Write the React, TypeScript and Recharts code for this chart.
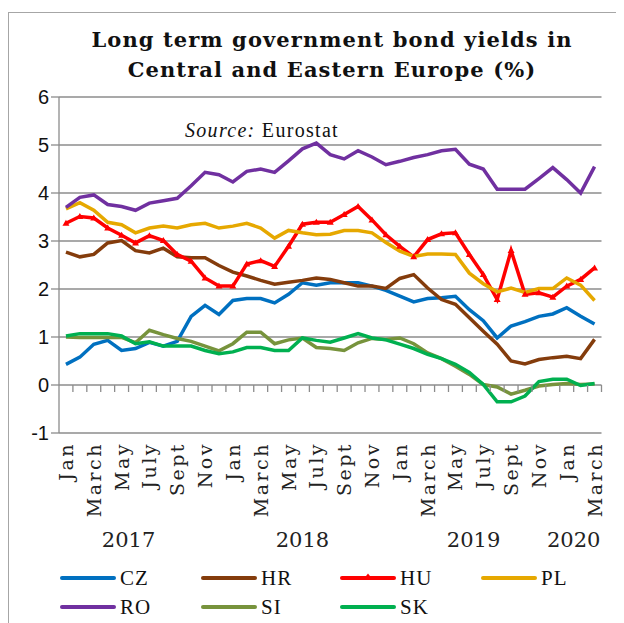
import { LineChart, Line, XAxis, YAxis, CartesianGrid } from 'recharts';

const months = [
  'Jan 2017', 'Feb 2017', 'Mar 2017', 'Apr 2017', 'May 2017', 'Jun 2017', 'Jul 2017', 'Aug 2017', 'Sep 2017', 'Oct 2017', 'Nov 2017', 'Dec 2017',
  'Jan 2018', 'Feb 2018', 'Mar 2018', 'Apr 2018', 'May 2018', 'Jun 2018', 'Jul 2018', 'Aug 2018', 'Sep 2018', 'Oct 2018', 'Nov 2018', 'Dec 2018',
  'Jan 2019', 'Feb 2019', 'Mar 2019', 'Apr 2019', 'May 2019', 'Jun 2019', 'Jul 2019', 'Aug 2019', 'Sep 2019', 'Oct 2019', 'Nov 2019', 'Dec 2019',
  'Jan 2020', 'Feb 2020', 'Mar 2020',
];

// short month -> label shown under the axis (every other month)
const monthTickLabels: Record<string, string> = {
  Jan: 'Jan', Mar: 'March', May: 'May', Jul: 'July', Sep: 'Sept', Nov: 'Nov',
};

const yearNames = ['2017', '2018', '2019', '2020'];
const yearTicks = [4.5, 17, 29.3, 36.5];

const yTicks = [-1, 0, 1, 2, 3, 4, 5, 6];

const cz = [0.43, 0.58, 0.85, 0.93, 0.72, 0.76, 0.89, 0.81, 0.91, 1.43, 1.66, 1.47, 1.76, 1.80, 1.80, 1.71, 1.89, 2.13, 2.08, 2.13, 2.13, 2.13, 2.06, 1.97, 1.85, 1.73, 1.80, 1.82, 1.85, 1.57, 1.34, 0.98, 1.23, 1.32, 1.43, 1.48, 1.61, 1.43, 1.27];
const hr = [2.77, 2.67, 2.72, 2.96, 3.01, 2.80, 2.75, 2.85, 2.67, 2.65, 2.65, 2.49, 2.35, 2.27, 2.18, 2.10, 2.14, 2.18, 2.23, 2.20, 2.13, 2.06, 2.06, 2.01, 2.22, 2.30, 2.02, 1.78, 1.68, 1.40, 1.12, 0.85, 0.50, 0.44, 0.53, 0.57, 0.60, 0.55, 0.95];
const hu = [3.37, 3.51, 3.48, 3.27, 3.12, 2.96, 3.11, 3.01, 2.72, 2.58, 2.23, 2.06, 2.06, 2.52, 2.59, 2.47, 2.89, 3.35, 3.39, 3.39, 3.55, 3.72, 3.44, 3.13, 2.89, 2.67, 3.03, 3.15, 3.17, 2.72, 2.30, 1.78, 2.80, 1.89, 1.92, 1.83, 2.06, 2.20, 2.44];
const pl = [3.67, 3.80, 3.64, 3.39, 3.34, 3.17, 3.27, 3.31, 3.27, 3.34, 3.37, 3.27, 3.31, 3.37, 3.27, 3.06, 3.22, 3.17, 3.13, 3.14, 3.22, 3.22, 3.17, 2.97, 2.79, 2.68, 2.73, 2.73, 2.72, 2.33, 2.11, 1.94, 2.02, 1.93, 2.01, 2.01, 2.23, 2.08, 1.76];
const ro = [3.70, 3.91, 3.96, 3.76, 3.72, 3.64, 3.79, 3.84, 3.89, 4.15, 4.43, 4.38, 4.23, 4.45, 4.50, 4.43, 4.67, 4.92, 5.04, 4.80, 4.71, 4.88, 4.75, 4.59, 4.66, 4.74, 4.80, 4.88, 4.91, 4.60, 4.50, 4.08, 4.08, 4.08, 4.30, 4.53, 4.28, 4.00, 4.55];
const si = [1.00, 0.99, 0.99, 0.99, 0.99, 0.88, 1.14, 1.05, 0.97, 0.91, 0.81, 0.71, 0.86, 1.10, 1.10, 0.86, 0.94, 0.98, 0.78, 0.76, 0.72, 0.88, 0.97, 0.95, 0.98, 0.86, 0.67, 0.55, 0.39, 0.22, 0.01, -0.04, -0.19, -0.11, -0.02, 0.01, 0.03, 0.01, 0.02];
const sk = [1.02, 1.07, 1.07, 1.07, 1.02, 0.86, 0.90, 0.81, 0.81, 0.81, 0.72, 0.65, 0.69, 0.78, 0.78, 0.72, 0.72, 0.98, 0.93, 0.89, 0.98, 1.07, 0.98, 0.94, 0.85, 0.76, 0.64, 0.55, 0.43, 0.26, 0.01, -0.35, -0.35, -0.23, 0.07, 0.12, 0.12, -0.01, 0.03];

const series = [
  { key: 'CZ', color: '#0070C0', values: cz },
  { key: 'HR', color: '#843C0C', values: hr },
  { key: 'HU', color: '#FF0000', values: hu },
  { key: 'PL', color: '#E6A800', values: pl },
  { key: 'RO', color: '#7030A0', values: ro },
  { key: 'SI', color: '#77933C', values: si },
  { key: 'SK', color: '#00B050', values: sk },
];

const data = months.map((m, i) => {
  const row: Record<string, any> = { month: m, idx: i };
  series.forEach(s => { row[s.key] = s.values[i]; });
  return row;
});

// layout (chart coordinates)
const CHART_W = 616;
const CHART_H = 615;
const PLOT_LEFT = 51;
const PLOT_RIGHT = 593.5;
const PLOT_TOP = 89;
const PLOT_BOTTOM = 425;
const Y_ZERO = PLOT_TOP + (PLOT_BOTTOM - PLOT_TOP) * 6 / 7;
const STEP = (PLOT_RIGHT - PLOT_LEFT) / months.length;
const GRID = '#8c8c8c';
const SERIF = '"DejaVu Serif", serif';
const TIMES = '"Liberation Serif", "Times New Roman", Times, serif';

const MonthTick = (props: any) => {
  const { x, payload } = props;
  const label = monthTickLabels[String(payload.value).split(' ')[0]];
  const ty = PLOT_BOTTOM + 9;
  return (
    <g>
      <line x1={x + STEP / 2} x2={x + STEP / 2} y1={Y_ZERO} y2={Y_ZERO + 7} stroke={GRID} strokeWidth={1.3} />
      {label && (
        <text
          x={x}
          y={ty}
          transform={`rotate(-90 ${x} ${ty})`}
          textAnchor="end"
          dominantBaseline="central"
          fontFamily={SERIF}
          fontSize={19}
          letterSpacing={2.5}
          fill="#222"
        >
          {label}
        </text>
      )}
    </g>
  );
};

const YearTick = (props: any) => {
  const { x, payload, index } = props;
  return (
    <text x={x} y={532} textAnchor="middle" dominantBaseline="central" fontFamily={SERIF} fontSize={21} fill="#222">
      {yearNames[index] ?? payload.value}
    </text>
  );
};

const HuDot = (props: any) => {
  const { cx, cy } = props;
  if (cx == null || cy == null) return null;
  return <path d={`M${cx},${cy - 3.5} L${cx + 3.5},${cy + 2.5} L${cx - 3.5},${cy + 2.5} Z`} fill="#FF0000" />;
};

const LegendBlock = () => (
  <div style={{ position: 'absolute', left: 52, top: 556, width: 560, display: 'grid', gridTemplateColumns: '141px 139px 141px 141px', rowGap: 1 }}>
    {series.map(s => (
      <div key={s.key} style={{ display: 'flex', alignItems: 'center', height: 28 }}>
        <svg width={58} height={12} style={{ display: 'block' }}>
          <line x1={2} x2={54} y1={6} y2={6} stroke={s.color} strokeWidth={4} strokeLinecap="round" />
          {s.key === 'HU' && <path d="M28,1.5 L31.5,6 L24.5,6 Z" fill={s.color} />}
        </svg>
        <span style={{ fontFamily: TIMES, fontSize: 21, letterSpacing: 1, color: '#111', marginLeft: 2 }}>{s.key}</span>
      </div>
    ))}
  </div>
);

export default function App() {
  return (
    <div style={{ position: 'relative', width: CHART_W, height: CHART_H, overflow: 'hidden', background: '#fff' }}>
      <div style={{ position: 'absolute', left: 0, top: 4, width: CHART_W + 20, height: CHART_H + 20, borderLeft: '1px solid #a6a6a6', borderTop: '1px solid #a6a6a6' }} />
      <div style={{ position: 'absolute', left: 24, top: 17, width: 600, textAlign: 'center', fontFamily: SERIF, fontWeight: 'bold', fontSize: 21, lineHeight: '30px', letterSpacing: 1.1, color: '#111', whiteSpace: 'nowrap' }}>
        Long term government bond yields in
        <br />
        Central and Eastern Europe (%)
      </div>
      <div style={{ position: 'absolute', left: 177, top: 110, fontFamily: TIMES, fontSize: 20, lineHeight: '24px', letterSpacing: 1.3, color: '#111', zIndex: 2 }}>
        <i>Source:</i> Eurostat
      </div>
      <div style={{ position: 'absolute', left: 0, top: 0 }}>
        <LineChart width={CHART_W} height={CHART_H} data={data} margin={{ top: PLOT_TOP, right: CHART_W - PLOT_RIGHT, left: 0, bottom: 55 }}>
          <CartesianGrid horizontal vertical={false} stroke={GRID} strokeWidth={1.3} />
          <XAxis
            dataKey="month"
            interval={0}
            padding={{ left: STEP / 2, right: STEP / 2 }}
            axisLine={false}
            tickLine={false}
            height={95}
            tick={<MonthTick />}
          />
          <XAxis
            xAxisId="year"
            dataKey="idx"
            type="number"
            domain={[-0.5, months.length - 0.5]}
            ticks={yearTicks}
            allowDataOverflow
            axisLine={false}
            tickLine={false}
            height={40}
            tick={<YearTick />}
          />
          <YAxis
            domain={[-1, 6]}
            ticks={yTicks}
            width={PLOT_LEFT}
            axisLine={{ stroke: GRID, strokeWidth: 1.3 }}
            tickLine={{ stroke: GRID, strokeWidth: 1.3 }}
            tickSize={8}
            tick={{ fontFamily: '"Liberation Sans", sans-serif', fontSize: 20, fill: '#111' }}
          />
          {series.map(s => (
            <Line
              key={s.key}
              type="linear"
              dataKey={s.key}
              stroke={s.color}
              strokeWidth={3.5}
              dot={s.key === 'HU' ? <HuDot /> : false}
              activeDot={false}
              isAnimationActive={false}
            />
          ))}
        </LineChart>
      </div>
      <LegendBlock />
    </div>
  );
}
